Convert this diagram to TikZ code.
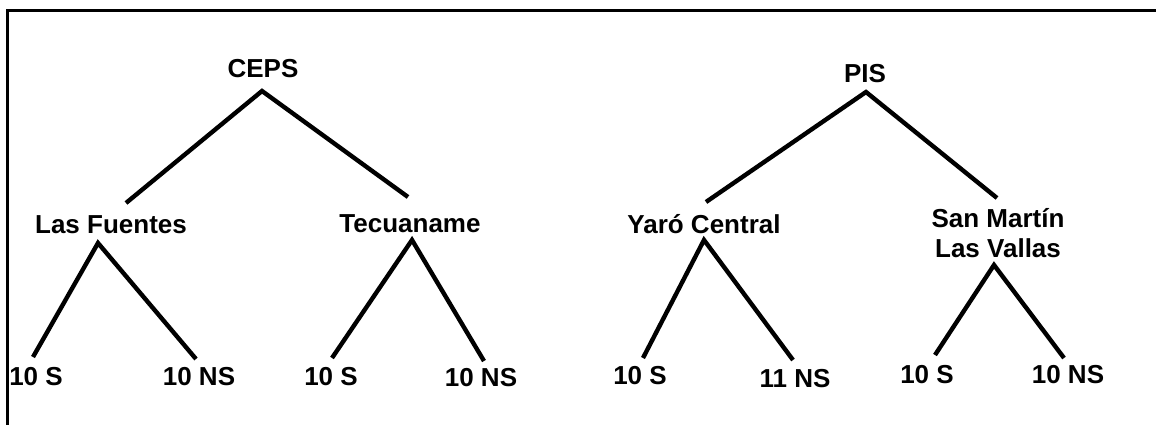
\documentclass[tikz,border=0pt]{standalone}
\usepackage{fontspec}
\setmainfont{Liberation Sans}
\begin{document}
\begin{tikzpicture}[x=1pt,y=-1pt,
  lbl/.style={anchor=base,inner sep=0pt,font=\fontsize{26}{30}\selectfont\bfseries},
  branch/.style={line width=4.4pt,line cap=butt,line join=miter}]
\useasboundingbox (0,0) rectangle (1156,425);
\fill[white] (0,0) rectangle (1156,425);
\draw[line width=3pt] (7,425) -- (7,11) -- (1156,11);
% labels
\node[lbl] (ceps) at (263,78) {CEPS};
\node[lbl] (lf) at (111,233) {Las Fuentes};
\node[lbl] (tec) at (410,232) {Tecuaname};
\node[lbl] (lf1) at (36,385) {10 S};
\node[lbl] (lf2) at (199,385) {10 NS};
\node[lbl] (tec1) at (331,385) {10 S};
\node[lbl] (tec2) at (481,386) {10 NS};
\node[lbl] (pis) at (865,83) {PIS};
\node[lbl] (yc) at (704,233) {Yaró Central};
\node[lbl,align=center] (sm) at (998,257) {San Martín\\Las Vallas};
\node[lbl] (yc1) at (640,384) {10 S};
\node[lbl] (yc2) at (795,387) {11 NS};
\node[lbl] (sm1) at (927,383) {10 S};
\node[lbl] (sm2) at (1068,383) {10 NS};
% connector end points
\coordinate (ceps-a) at (262,91);
\coordinate (lf-t) at (126,203);
\coordinate (tec-t) at (408,197);
\coordinate (lf-a) at (98,243);
\coordinate (lf1-t) at (33,357);
\coordinate (lf2-t) at (196,359);
\coordinate (tec-a) at (412,240);
\coordinate (tec1-t) at (332,358);
\coordinate (tec2-t) at (484,361);
\coordinate (pis-a) at (866,92);
\coordinate (yc-t) at (706,202);
\coordinate (sm-t) at (997,198);
\coordinate (yc-a) at (704,240);
\coordinate (yc1-t) at (643,358);
\coordinate (yc2-t) at (793,360);
\coordinate (sm-a) at (994,265);
\coordinate (sm1-t) at (935,355);
\coordinate (sm2-t) at (1064,358);
\draw[branch] (lf-t) -- (ceps-a) -- (tec-t);
\draw[branch] (lf1-t) -- (lf-a) -- (lf2-t);
\draw[branch] (tec1-t) -- (tec-a) -- (tec2-t);
\draw[branch] (yc-t) -- (pis-a) -- (sm-t);
\draw[branch] (yc1-t) -- (yc-a) -- (yc2-t);
\draw[branch] (sm1-t) -- (sm-a) -- (sm2-t);
\end{tikzpicture}
\end{document}
